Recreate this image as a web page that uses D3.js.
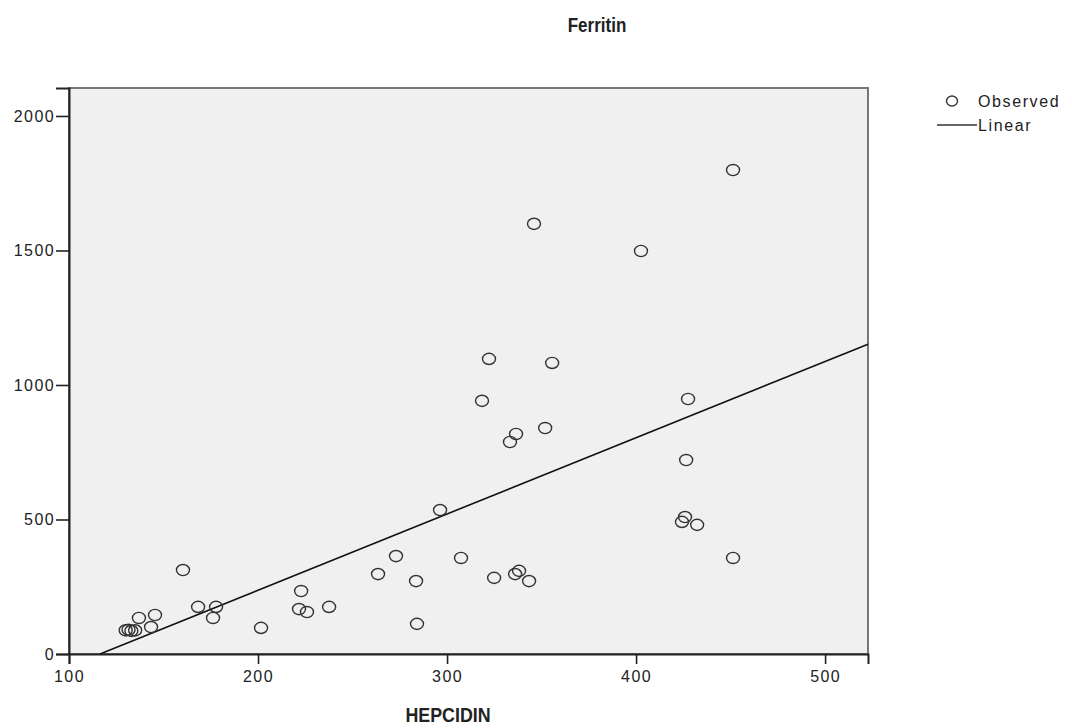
<!DOCTYPE html>
<html>
<head>
<meta charset="utf-8">
<script src="https://cdn.jsdelivr.net/npm/d3@7"></script>
<style>
  body { margin: 0; background: #fff; }
  text { font-family: "Liberation Sans", Arial, sans-serif; fill: #222; }
</style>
</head>
<body>
<div id="chart"></div>
<script>
// observed points
const hepcidin = [130, 131.5, 133, 135, 137, 145.5, 143.4, 160.3, 168.3, 177.8, 176.2, 201.6,
  222.8, 221.7, 225.9, 237.6, 296.3, 273, 263.5, 283.6, 307.4, 284.1, 324.9, 336, 338.1, 343.4,
  322.2, 355.6, 318.5, 336.5, 333.3, 351.9, 346, 402.6, 451.3, 427.5, 426.5, 425.9, 424.3,
  432.3, 451.3];
const ferritin = [88, 90, 86, 88, 134, 145, 100, 312, 175, 175, 134, 97,
  234, 167, 156, 175, 535, 364, 297, 271, 357, 112, 283, 297, 309, 271,
  1097, 1082, 941, 818, 788, 840, 1599, 1498, 1799, 948, 721, 509, 491,
  480, 357];
const yTicks = [0, 500, 1000, 1500, 2000];
const xTicks = [100, 200, 300, 400, 500];
const fitIntercept = -330;
const fitSlope = 2.835;

const W = 1072, H = 728;
const plotLeft = 69, plotRight = 868, plotTop = 88, plotBottom = 654;

const svg = d3.select("#chart").append("svg")
    .attr("width", W)
    .attr("height", H);

const x = d3.scaleLinear().domain([100, 522.7]).range([plotLeft, plotRight]);
const y = d3.scaleLinear().domain([0, 2104]).range([plotBottom, plotTop]);

svg.append("rect")
    .attr("x", plotLeft).attr("y", plotTop)
    .attr("width", plotRight - plotLeft).attr("height", plotBottom - plotTop)
    .attr("fill", "#f0f0f0")
    .attr("stroke", "#777").attr("stroke-width", 2);

// regression line, clipped at y = 0
const x0 = -fitIntercept / fitSlope;
const x1 = x.domain()[1];
svg.append("line")
    .attr("x1", x(x0)).attr("y1", y(0))
    .attr("x2", x(x1)).attr("y2", y(fitIntercept + fitSlope * x1))
    .attr("stroke", "#111").attr("stroke-width", 1.6);

svg.selectAll("ellipse.obs")
    .data(hepcidin.map((h, i) => [h, ferritin[i]]))
    .enter()
    .append("ellipse")
    .attr("class", "obs")
    .attr("cx", d => x(d[0]))
    .attr("cy", d => y(d[1]))
    .attr("rx", 6.5)
    .attr("ry", 5.6)
    .attr("fill", "none")
    .attr("stroke", "#333")
    .attr("stroke-width", 1.4);

// axes
const yAxis = svg.append("g")
    .attr("transform", "translate(" + plotLeft + ",0)")
    .call(d3.axisLeft(y).tickValues(yTicks).tickSize(13).tickPadding(1).tickFormat(d3.format("d")));
const xAxis = svg.append("g")
    .attr("transform", "translate(0," + plotBottom + ")")
    .call(d3.axisBottom(x).tickValues(xTicks).tickSize(10).tickPadding(7).tickFormat(d3.format("d")));

[yAxis, xAxis].forEach(function (g) {
    g.select(".domain").attr("stroke", "#222").attr("stroke-width", 2);
    g.selectAll(".tick line").attr("stroke", "#222").attr("stroke-width", 1.6);
    g.selectAll(".tick text").style("font-family", "Liberation Sans, Arial, sans-serif")
        .style("font-size", "16px").style("letter-spacing", "1.4px").attr("fill", "#222");
});

// bold titles are a bit condensed in the original
svg.append("text")
    .attr("transform", "translate(597,32) scale(0.85,1)")
    .attr("text-anchor", "middle")
    .style("font-size", "20px").style("font-weight", "bold")
    .text("Ferritin");

svg.append("text")
    .attr("transform", "translate(448,722) scale(0.85,1)")
    .attr("text-anchor", "middle")
    .style("font-size", "21px").style("font-weight", "bold")
    .text("HEPCIDIN");

// legend
const legend = svg.append("g");
legend.append("ellipse")
    .attr("cx", 952).attr("cy", 101).attr("rx", 5.5).attr("ry", 5)
    .attr("fill", "none").attr("stroke", "#333").attr("stroke-width", 1.4);
legend.append("text")
    .attr("x", 978).attr("y", 107)
    .style("font-size", "16px").style("letter-spacing", "1.6px")
    .text("Observed");
legend.append("line")
    .attr("x1", 937).attr("x2", 977)
    .attr("y1", 125).attr("y2", 125)
    .attr("stroke", "#333").attr("stroke-width", 1.6);
legend.append("text")
    .attr("x", 978).attr("y", 131)
    .style("font-size", "16px").style("letter-spacing", "1.6px")
    .text("Linear");
</script>
</body>
</html>
